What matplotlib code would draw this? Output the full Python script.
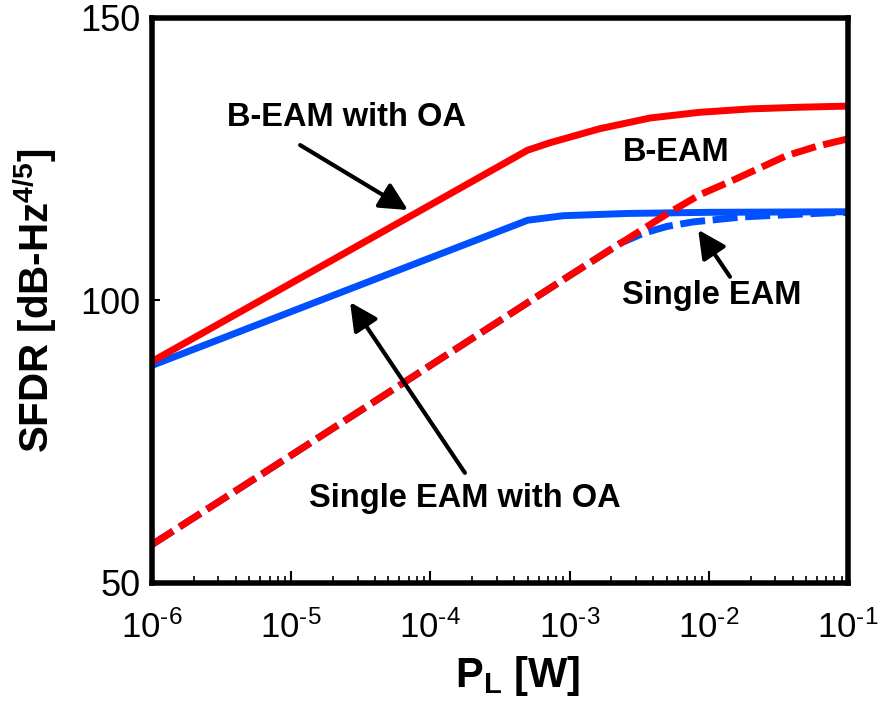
import numpy as np
import matplotlib
matplotlib.use("Agg")
import matplotlib.pyplot as plt
from matplotlib.ticker import LogLocator, FixedLocator, NullFormatter, FuncFormatter

plt.rcParams['font.family']=['Liberation Sans','DejaVu Sans']
plt.rcParams['mathtext.fontset']='custom'
plt.rcParams['mathtext.rm']='Liberation Sans'
plt.rcParams['mathtext.bf']='Liberation Sans:bold'
plt.rcParams['mathtext.it']='Liberation Sans:italic'

# B-EAM with OA (red solid)
p_beam_oa=[1e-6,5e-4,7.2e-4,1.65e-3,3.8e-3,8.6e-3,1.98e-2,4.5e-2,1e-1]
v_beam_oa=[89.2,126.6,127.9,130.4,132.3,133.3,133.9,134.2,134.4]
# Single EAM with OA (blue solid)
p_single_oa=[1e-6,5e-4,9e-4,2.6e-3,1e-2,1e-1]
v_single_oa=[88.5,114.2,115.0,115.4,115.6,115.7]
# B-EAM (red dashed)
p_beam=[1e-6,1e-5,1e-4,1e-3,3.4e-3,5e-3,8.6e-3,1.5e-2,2.3e-2,3.6e-2,6e-2,1e-1]
v_beam=[56.8,72.6,88.5,104.4,112.7,115.3,118.7,121.3,123.4,125.6,127.3,128.6]
# Single EAM (blue dashed)
p_single=[1e-6,1e-5,1e-4,1e-3,2.3e-3,3.4e-3,5e-3,7.7e-3,1.77e-2,7.1e-2,1e-1]
v_single=[56.8,72.6,88.5,104.4,110.1,111.9,113.1,113.9,114.8,115.5,115.6]

RED="#ff0000"
BLUE="#0050ff"
dash=(3.6,1.1)

fig=plt.figure(figsize=(8.8,7.04),dpi=100)
ax=fig.add_axes([0.1727,0.1719,0.7909,0.8026])

ax.plot(p_single,v_single,color=BLUE,lw=5,dashes=dash)
ax.plot(p_single_oa,v_single_oa,color=BLUE,lw=5)
ax.plot(p_beam,v_beam,color=RED,lw=5,dashes=dash)
ax.plot(p_beam_oa,v_beam_oa,color=RED,lw=5)

ax.set_xscale("log")
ax.set_xlim(1e-6,1e-1)
ax.set_ylim(50,150)
ax.yaxis.set_major_locator(FixedLocator([50,100,150]))
ax.xaxis.set_major_locator(LogLocator(base=10,numticks=10))
ax.xaxis.set_minor_locator(LogLocator(base=10,subs=np.arange(2,10),numticks=10))
ax.xaxis.set_minor_formatter(NullFormatter())
ax.xaxis.set_major_formatter(FuncFormatter(lambda v,pos:r"10$^{\text{-}%d}$"%round(-np.log10(v))))

for s in ax.spines.values():
    s.set_linewidth(4)
ax.tick_params(axis="x",which="major",direction="in",length=9,width=1.5,pad=20,labelsize=25)
ax.tick_params(axis="x",which="minor",direction="in",length=5,width=1.2)
ax.tick_params(axis="y",which="major",direction="in",length=6,width=1.5,pad=8,labelsize=26)

ax.set_xlabel(r"P$_\mathbf{L}$ [W]",fontsize=30,fontweight="bold",va="center")
ax.xaxis.set_label_coords(0.526,-0.165)
ax.set_ylabel(r"SFDR [dB-Hz$^\mathbf{4/5}$]",fontsize=29,fontweight="bold",va="center")
ax.yaxis.set_label_coords(-0.168,0.5)

aprops=dict(arrowstyle="-|>",color="k",lw=3,mutation_scale=42,shrinkA=0,shrinkB=0)
tkw=dict(fontsize=23.5,fontweight="bold",ha="center",va="center")

ax.text(2.5e-5,132.3,"B-EAM with OA",**tkw)
ax.annotate("",xy=(6.9e-5,116.0),xytext=(1.16e-5,127.5),arrowprops=aprops)

ax.text(5.8e-3,126.1,"B-EAM",**tkw)

ax.text(1.05e-2,100.8,"Single EAM",**tkw)
ax.annotate("",xy=(8.4e-3,112.5),xytext=(1.42e-2,104.2),arrowprops=aprops)

ax.text(1.77e-4,65.0,"Single EAM with OA",**tkw)
ax.annotate("",xy=(2.65e-5,99.7),xytext=(1.77e-4,69.5),arrowprops=aprops)

fig.savefig("out.png",dpi=100)
